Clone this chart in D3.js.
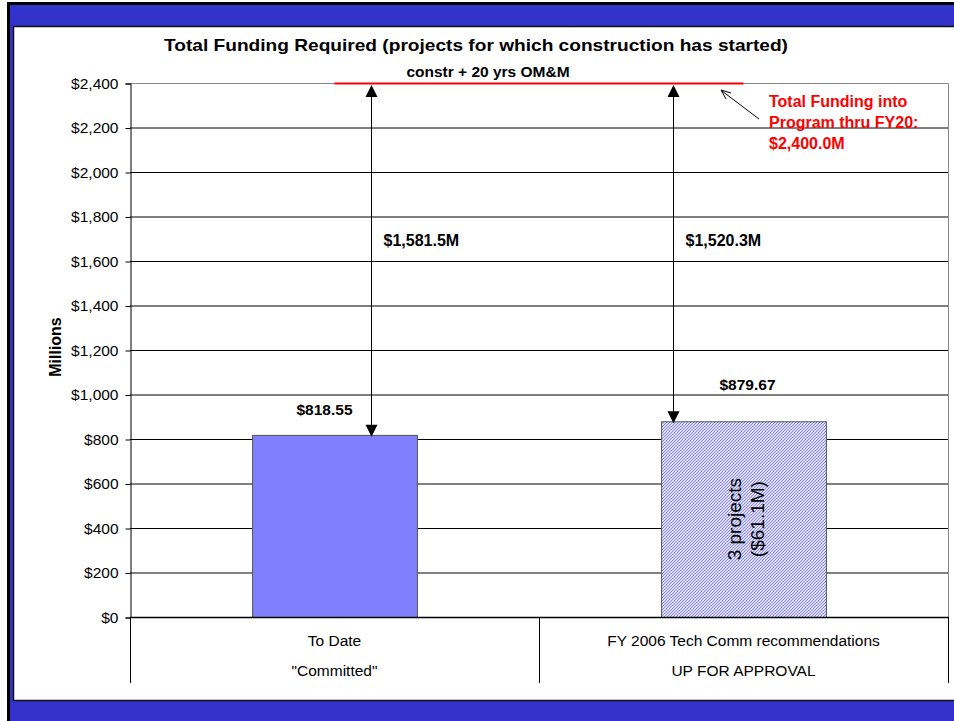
<!DOCTYPE html>
<html>
<head>
<meta charset="utf-8">
<script src="https://cdn.jsdelivr.net/npm/d3@7"></script>
<style>
  body { margin: 0; background: #fff; }
  text { font-family: "Liberation Sans", Arial, sans-serif; }
</style>
</head>
<body>
<div id="chart"></div>
<script>
const categories = ["To Date", "FY 2006 Tech Comm recommendations"];
const subLabels = ["\"Committed\"", "UP FOR APPROVAL"];
const values = [818.55, 879.67];
const valueLabels = ["$818.55", "$879.67"];
const gapLabels = ["$1,581.5M", "$1,520.3M"];
const totalFunding = 2400;
const yTicks = [0, 200, 400, 600, 800, 1000, 1200, 1400, 1600, 1800, 2000, 2200, 2400];
const noteLines = ["Total Funding into", "Program thru FY20:", "$2,400.0M"];
const barNote = ["3 projects", "($61.1M)"];

const width = 954, height = 721;

const svg = d3.select("#chart").append("svg")
    .attr("width", width)
    .attr("height", height);

// slide frame
svg.append("rect").attr("x", 8.5).attr("y", 3.5).attr("width", width).attr("height", height)
    .attr("fill", "#3333cc").attr("stroke", "#000").attr("stroke-width", 3);
svg.append("rect").attr("x", 13.5).attr("y", 26.5).attr("width", width).attr("height", 674)
    .attr("fill", "#fff").attr("stroke", "#111").attr("stroke-width", 1.5);

const plot = {left: 130, right: 948, top: 83, bottom: 617};

const x = d3.scaleBand().domain(categories).range([plot.left, plot.right]).padding(0);
const barW = x.bandwidth() * 0.403;
const y = d3.scaleLinear().domain([0, 2400]).range([plot.bottom, plot.top]);

const defs = svg.append("defs");
const pat = defs.append("pattern").attr("id", "hatch")
    .attr("patternUnits", "userSpaceOnUse").attr("width", 3).attr("height", 3);
pat.append("rect").attr("width", 3).attr("height", 3).attr("fill", "#dadaf6");
pat.append("path").attr("d", "M0,3 L3,0 M-1,1 L1,-1 M2,4 L4,2")
    .attr("stroke", "#7a7ad6").attr("stroke-width", 0.8);

// title
svg.append("text").attr("x", 476).attr("y", 51).attr("text-anchor", "middle")
    .style("font-size", "17px").style("font-weight", "bold")
    .attr("textLength", 624).attr("lengthAdjust", "spacingAndGlyphs")
    .text("Total Funding Required (projects for which construction has started)");

// gridlines
svg.append("g").selectAll("line").data(yTicks.filter(d => d < 2400)).join("line")
    .attr("x1", plot.left).attr("x2", plot.right)
    .attr("y1", d => y(d) + 0.5).attr("y2", d => y(d) + 0.5)
    .attr("stroke", "#000").attr("stroke-width", 1);

// plot border top/right (gray)
svg.append("path")
    .attr("d", `M${plot.left},${plot.top + 0.5}H${plot.right + 0.5}V${plot.bottom}`)
    .attr("fill", "none").attr("stroke", "#888").attr("stroke-width", 1);

// y axis
const yAxis = svg.append("g").attr("transform", `translate(${plot.left + 0.5},0.5)`)
    .call(d3.axisLeft(y).tickValues(yTicks).tickSize(5).tickPadding(7)
        .tickFormat(d => "$" + d3.format(",")(d)));
yAxis.select(".domain").attr("stroke", "#000");
yAxis.selectAll("text").style("font-size", "15.5px").attr("fill", "#000")
    .style("font-family", "'Liberation Sans', Arial, sans-serif");

svg.append("text").attr("transform", "translate(61,347) rotate(-90)")
    .attr("text-anchor", "middle").style("font-size", "16px").style("font-weight", "bold")
    .text("Millions");

// bars
svg.append("g").selectAll("rect").data(categories).join("rect")
    .attr("x", d => x(d) + (x.bandwidth() - barW) / 2 + 0.5)
    .attr("width", barW)
    .attr("y", (d, i) => y(values[i]) + 0.5)
    .attr("height", (d, i) => y(0) - y(values[i]))
    .attr("fill", (d, i) => i === 0 ? "#8080ff" : "url(#hatch)")
    .attr("stroke", "#555").attr("stroke-width", 1);

// x axis line and category dividers
svg.append("line").attr("x1", plot.left).attr("x2", plot.right + 1)
    .attr("y1", plot.bottom + 0.5).attr("y2", plot.bottom + 0.5)
    .attr("stroke", "#000").attr("stroke-width", 1.5);
svg.append("g").selectAll("line").data([...categories.map(c => x(c)), plot.right]).join("line")
    .attr("x1", d => d + 0.5).attr("x2", d => d + 0.5)
    .attr("y1", plot.bottom).attr("y2", 683)
    .attr("stroke", "#000").attr("stroke-width", 1);

const catLab = svg.append("g").style("font-size", "15.5px").attr("text-anchor", "middle");
catLab.selectAll("text.c1").data(categories).join("text").attr("class", "c1")
    .attr("x", d => x(d) + x.bandwidth() / 2).attr("y", 646).text(d => d);
catLab.selectAll("text.c2").data(subLabels).join("text").attr("class", "c2")
    .attr("x", (d, i) => x(categories[i]) + x.bandwidth() / 2).attr("y", 676).text(d => d);

// total funding red line
const cx = categories.map(c => x(c) + x.bandwidth() / 2);
svg.append("line").attr("x1", cx[0]).attr("x2", cx[1])
    .attr("y1", y(totalFunding) + 0.5).attr("y2", y(totalFunding) + 0.5)
    .attr("stroke", "#ff0000").attr("stroke-width", 2);
svg.append("text").attr("x", 488).attr("y", 77).attr("text-anchor", "middle")
    .style("font-size", "15.5px").style("font-weight", "bold").text("constr + 20 yrs OM&M");

// value labels
const labelOffset = [20, 31];
svg.append("g").selectAll("text").data(valueLabels).join("text")
    .attr("x", (d, i) => i === 0 ? cx[0] - 10 : cx[1] + 4)
    .attr("y", (d, i) => y(values[i]) - labelOffset[i])
    .attr("text-anchor", "middle").style("font-size", "15.5px").style("font-weight", "bold")
    .text(d => d);

// double-headed arrows from bar top up to total
const arrowFrac = [0.72, 0.075];
const ax = categories.map((c, i) => Math.round(x(c) + (x.bandwidth() - barW) / 2 + barW * arrowFrac[i]) + 0.5);
const arrows = svg.append("g");
categories.forEach((c, i) => {
  const yTop = y(totalFunding) + 2, yBot = y(values[i]) + 2;
  arrows.append("line").attr("x1", ax[i]).attr("x2", ax[i]).attr("y1", yTop + 10).attr("y2", yBot - 10)
      .attr("stroke", "#000").attr("stroke-width", 1);
  arrows.append("path").attr("d", `M${ax[i]},${yTop} L${ax[i] - 6},${yTop + 12} L${ax[i] + 6},${yTop + 12} Z`)
      .attr("fill", "#000");
  arrows.append("path").attr("d", `M${ax[i]},${yBot} L${ax[i] - 6},${yBot - 12} L${ax[i] + 6},${yBot - 12} Z`)
      .attr("fill", "#000");
  arrows.append("text").attr("x", ax[i] + 12).attr("y", y(1668))
      .style("font-size", "16px").style("font-weight", "bold")
      .text(gapLabels[i]);
});

// annotation for total funding
const note = svg.append("g");
note.append("line").attr("x1", 759).attr("y1", 119).attr("x2", 722).attr("y2", 91)
    .attr("stroke", "#000").attr("stroke-width", 1);
note.append("path").attr("d", "M731,93 L721,90 L726,99")
    .attr("fill", "none").attr("stroke", "#000").attr("stroke-width", 1);
note.selectAll("text").data(noteLines).join("text")
    .attr("x", 769).attr("y", (d, i) => 107 + i * 21)
    .attr("fill", "#ff0000").style("font-size", "16px").style("font-weight", "bold")
    .text(d => d);

// rotated note in hatched bar
const nb = svg.append("g").attr("transform", `translate(${cx[1] + 4},${y(values[1] * 0.5)}) rotate(-90)`);
nb.selectAll("text").data(barNote).join("text")
    .attr("x", 0).attr("y", (d, i) => -7 + i * 23)
    .attr("text-anchor", "middle").style("font-size", "19px")
    .text(d => d);
</script>
</body>
</html>
